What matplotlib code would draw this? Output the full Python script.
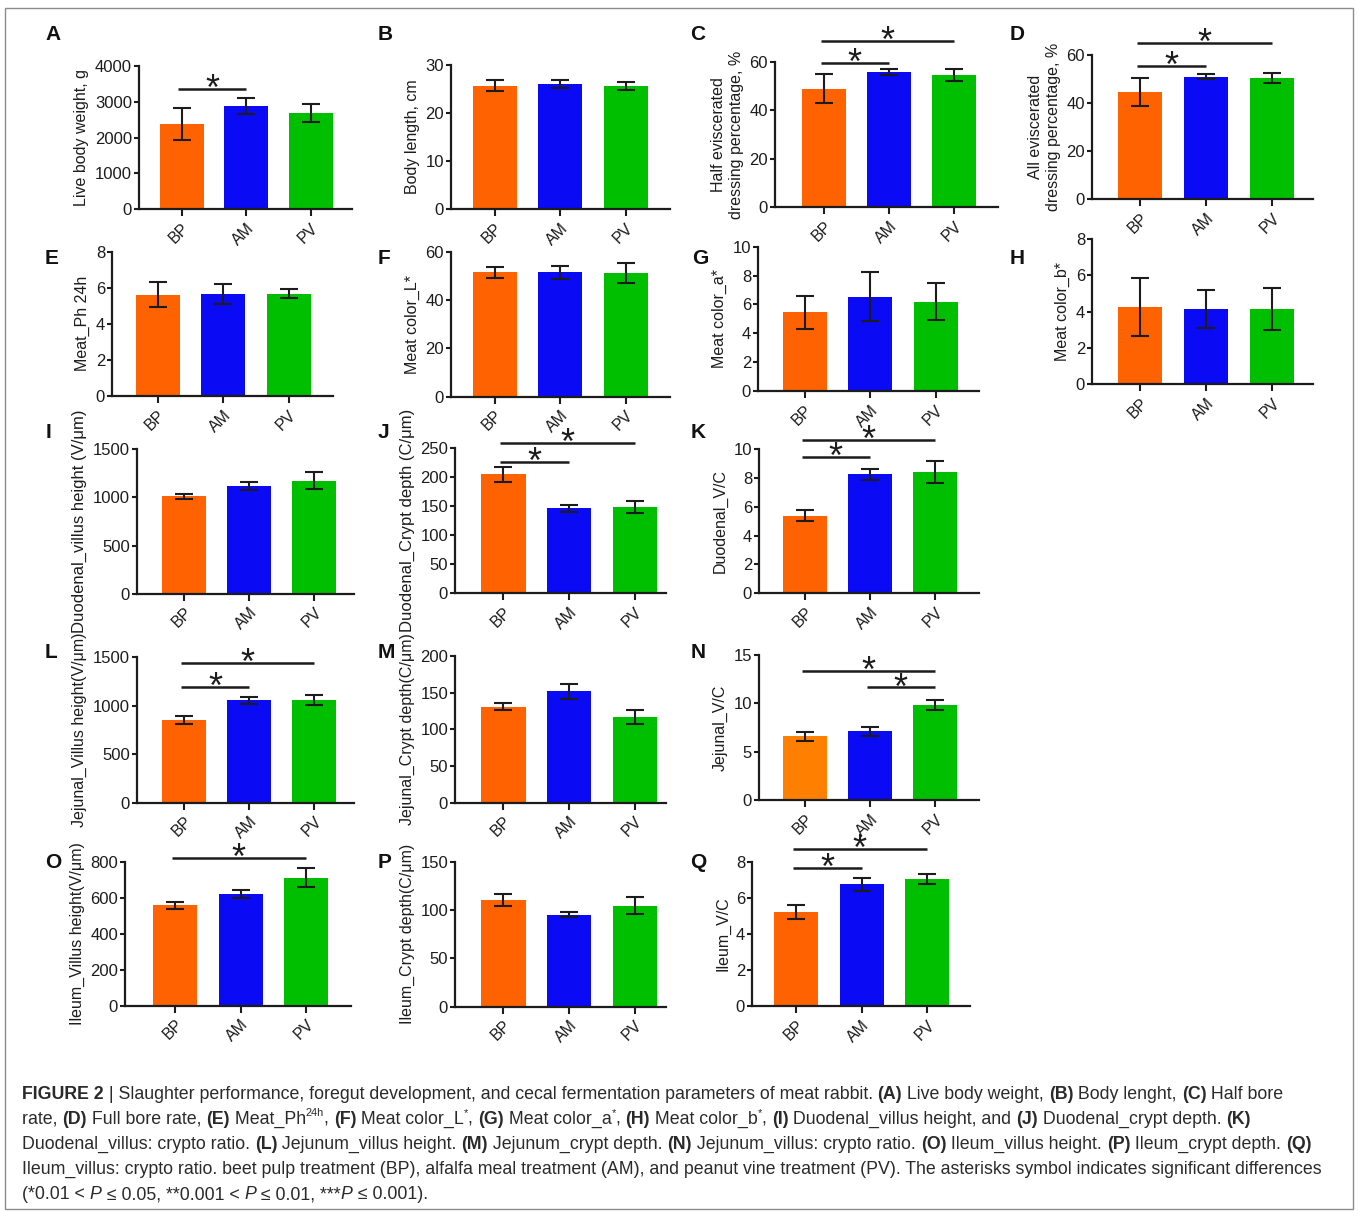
import matplotlib

matplotlib.use("Agg")
import matplotlib.pyplot as plt
from matplotlib.patches import Rectangle
from matplotlib.transforms import offset_copy

W, H = 1358, 1211
DPI = 100

GROUPS = ["BP", "AM", "PV"]
COLORS = ["#ff6200", "#0a0af5", "#00bf00"]
COLORS_N = ["#ff8000", "#0a0af5", "#00bf00"]

# slaughter performance and meat quality (A-H), mean and error
live_weight = [2370, 2880, 2680]
live_weight_err = [445, 215, 255]
body_length = [25.7, 26.0, 25.6]
body_length_err = [1.2, 0.8, 0.9]
half_dressing = [48.9, 55.9, 54.5]
half_dressing_err = [6.0, 1.2, 2.3]
all_dressing = [44.7, 51.0, 50.4]
all_dressing_err = [5.9, 1.0, 2.1]
meat_ph = [5.62, 5.66, 5.66]
meat_ph_err = [0.70, 0.56, 0.25]
color_l = [51.4, 51.5, 51.1]
color_l_err = [2.3, 2.7, 4.1]
color_a = [5.45, 6.54, 6.19]
color_a_err = [1.15, 1.70, 1.30]
color_b = [4.24, 4.15, 4.15]
color_b_err = [1.60, 1.06, 1.18]

# intestine morphology (I-Q)
duo_villus = [1010, 1118, 1175]
duo_villus_err = [28, 42, 85]
duo_crypt = [205, 147, 148.5]
duo_crypt_err = [12.5, 6, 10]
duo_vc = [5.38, 8.24, 8.40]
duo_vc_err = [0.36, 0.38, 0.78]
jej_villus = [855, 1056, 1058]
jej_villus_err = [43, 38, 53]
jej_crypt = [131, 152, 117]
jej_crypt_err = [5, 10, 9.5]
jej_vc = [6.6, 7.1, 9.8]
jej_vc_err = [0.45, 0.43, 0.5]
ile_villus = [557, 620, 712]
ile_villus_err = [17, 24, 52]
ile_crypt = [110.5, 95, 104.5]
ile_crypt_err = [6, 2.7, 8.5]
ile_vc = [5.22, 6.75, 7.03]
ile_vc_err = [0.37, 0.37, 0.28]

# significance brackets: (from group, to group, height)
sig_a = [(0, 1, 3350)]
sig_c = [(0, 1, 59.5), (0, 2, 68.6)]
sig_d = [(0, 1, 55.5), (0, 2, 65.0)]
sig_j = [(0, 1, 226), (0, 2, 259)]
sig_k = [(0, 1, 9.47), (0, 2, 10.6)]
sig_l = [(0, 1, 1197), (0, 2, 1438)]
sig_n = [(0, 2, 13.37), (1, 2, 11.64)]
sig_o = [(0, 2, 822)]
sig_q = [(0, 1, 7.67), (0, 2, 8.68)]

# letter, y label, values, errors, y max, y step, brackets
PANELS = [
    ("A", "Live body weight, g", live_weight, live_weight_err, 4000, 1000, sig_a),
    ("B", "Body length, cm", body_length, body_length_err, 30, 10, []),
    ("C", "Half eviscerated\ndressing percentage, %", half_dressing, half_dressing_err, 60, 20, sig_c),
    ("D", "All eviscerated\ndressing percentage, %", all_dressing, all_dressing_err, 60, 20, sig_d),
    ("E", "Meat_Ph 24h", meat_ph, meat_ph_err, 8, 2, []),
    ("F", "Meat color_L*", color_l, color_l_err, 60, 20, []),
    ("G", "Meat color_a*", color_a, color_a_err, 10, 2, []),
    ("H", "Meat color_b*", color_b, color_b_err, 8, 2, []),
    ("I", "Duodenal_villus height (V/μm)", duo_villus, duo_villus_err, 1500, 500, []),
    ("J", "Duodenal_Crypt depth (C/μm)", duo_crypt, duo_crypt_err, 250, 50, sig_j),
    ("K", "Duodenal_V/C", duo_vc, duo_vc_err, 10, 2, sig_k),
    ("L", "Jejunal_Villus height(V/μm)", jej_villus, jej_villus_err, 1500, 500, sig_l),
    ("M", "Jejunal_Crypt depth(C/μm)", jej_crypt, jej_crypt_err, 200, 50, []),
    ("N", "Jejunal_V/C", jej_vc, jej_vc_err, 15, 5, sig_n),
    ("O", "Ileum_Villus height(V/μm)", ile_villus, ile_villus_err, 800, 200, sig_o),
    ("P", "Ileum_Crypt depth(C/μm)", ile_crypt, ile_crypt_err, 150, 50, []),
    ("Q", "Ileum_V/C", ile_vc, ile_vc_err, 8, 2, sig_q),
]

# pixel layout: y-axis x, first bar centre, bar spacing, axis end, top y, zero y,
# letter left x, letter y
LAYOUT = {
    "A": (139, 181.5, 64.5, 352, 66, 209, 45, 35),
    "B": (451, 494.5, 65.5, 670, 65, 209, 378, 35),
    "C": (775, 824, 65, 998, 61.7, 207.3, 690, 35),
    "D": (1092, 1140, 66, 1313, 55, 199.3, 1010, 35),
    "E": (112, 157.5, 65.5, 333, 251.7, 396, 45, 258),
    "F": (451, 494.5, 65.5, 670, 251.7, 396.7, 378, 258),
    "G": (758, 804.5, 65.5, 979, 246.7, 391, 692, 258),
    "H": (1092, 1140, 66, 1313, 239.3, 384, 1010, 258),
    "I": (137, 184.5, 65, 354, 449.3, 593.7, 46, 432),
    "J": (455, 503.5, 65.5, 666, 448.3, 593.3, 378, 432),
    "K": (759, 805, 65, 979, 449, 593.3, 691, 432),
    "L": (137, 184.5, 65, 354, 657.3, 802.7, 45, 652),
    "M": (455, 503.5, 65.5, 666, 656, 802.7, 378, 652),
    "N": (759, 805, 65, 979, 655, 800, 691, 652),
    "O": (125, 175, 65.5, 351, 861.7, 1005.7, 45, 863),
    "P": (455, 503.5, 65.5, 666, 861.7, 1006.7, 378, 863),
    "Q": (752, 796, 65.5, 970, 861.7, 1006, 690, 863),
}

NARROW = ["Liberation Sans Narrow", "Liberation Sans", "DejaVu Sans"]
REGULAR = ["Liberation Sans", "DejaVu Sans"]
INK = "#1c1c1c"
STAR_SIZE = 26
STAR_DROP = 11

CAPTION = [
    [("FIGURE 2", "b"), (" | Slaughter performance, foregut development, and cecal fermentation "
                         "parameters of meat rabbit. ", ""), ("(A)", "b"), (" Live body weight, ", ""),
     ("(B)", "b"), (" Body lenght, ", ""), ("(C)", "b"), (" Half bore", "")],
    [("rate, ", ""), ("(D)", "b"), (" Full bore rate, ", ""), ("(E)", "b"), (" Meat_Ph", ""),
     ("24h", "sup"), (", ", ""), ("(F)", "b"), (" Meat color_L", ""), ("*", "sup"), (", ", ""),
     ("(G)", "b"), (" Meat color_a", ""), ("*", "sup"), (", ", ""), ("(H)", "b"),
     (" Meat color_b", ""), ("*", "sup"), (", ", ""), ("(I)", "b"),
     (" Duodenal_villus height, and ", ""), ("(J)", "b"), (" Duodenal_crypt depth. ", ""),
     ("(K)", "b")],
    [("Duodenal_villus: crypto ratio. ", ""), ("(L)", "b"), (" Jejunum_villus height. ", ""),
     ("(M)", "b"), (" Jejunum_crypt depth. ", ""), ("(N)", "b"),
     (" Jejunum_villus: crypto ratio. ", ""), ("(O)", "b"), (" Ileum_villus height. ", ""),
     ("(P)", "b"), (" Ileum_crypt depth. ", ""), ("(Q)", "b")],
    [("Ileum_villus: crypto ratio. beet pulp treatment (BP), alfalfa meal treatment (AM), and "
      "peanut vine treatment (PV). The asterisks symbol indicates significant differences", "")],
    [("(*0.01 < ", ""), ("P", "i"), (" ≤ 0.05, **0.001 < ", ""), ("P", "i"), (" ≤ 0.01, ***", ""),
     ("P", "i"), (" ≤ 0.001).", "")],
]


def fx(x):
    return x / W


def fy(y):
    return 1 - y / H


def draw_panel(fig, letter, ylabel, values, errors, ymax, ystep, sig):
    axis_x, first, step, end, top, zero, lx, ly = LAYOUT[letter]
    ax = fig.add_axes([fx(axis_x), fy(zero), (end - axis_x) / W, (zero - top) / H])
    xs = list(range(len(GROUPS)))
    colors = COLORS_N if letter == "N" else COLORS
    ax.bar(xs, values, width=44 / step, color=colors, zorder=2)
    ax.errorbar(xs, values, yerr=errors, fmt="none", ecolor=INK, elinewidth=1.5,
                capsize=6.5, capthick=1.5, zorder=3)
    ax.set_xlim(-(first - axis_x) / step, (end - first) / step)
    ax.set_ylim(0, ymax)
    ax.set_yticks(range(0, ymax + 1, ystep))
    ax.set_xticks(xs)
    ax.set_xticklabels(GROUPS, rotation=45, ha="right", rotation_mode="anchor",
                       fontsize=11.5, color=INK)
    for lab in ax.get_yticklabels():
        lab.set_fontsize(12)
        lab.set_color(INK)
    for side in ("top", "right"):
        ax.spines[side].set_visible(False)
    for side in ("left", "bottom"):
        ax.spines[side].set_linewidth(1.6)
        ax.spines[side].set_color(INK)
    ax.tick_params(axis="y", direction="out", length=3.5, width=1.5, color=INK, pad=1.5)
    ax.tick_params(axis="x", direction="out", length=5, width=1.5, color=INK, pad=3)
    ax.set_ylabel(ylabel, fontsize=11.5 if letter not in ("I", "J") else 12,
                  color=INK, linespacing=1.25, labelpad=4)

    star_tf = offset_copy(ax.transData, fig=fig, x=0, y=-STAR_DROP, units="dots")
    for i, j, level in sig:
        x0 = i - 0.05
        ax.plot([x0, j], [level, level], color=INK, lw=1.8, clip_on=False,
                solid_capstyle="butt")
        ax.text((x0 + j) / 2, level, "*", transform=star_tf, ha="center", va="baseline",
                fontsize=STAR_SIZE, color=INK, family=REGULAR, clip_on=False)

    fig.text(fx(lx), fy(ly), letter, fontsize=15, fontweight="bold", ha="left",
             va="center", color="#111111")


def text_width(fig, renderer, text, props):
    probe = fig.text(0, 0, "x" + text + "x", **props)
    base = fig.text(0, 0, "xx", **props)
    width = probe.get_window_extent(renderer).width - base.get_window_extent(renderer).width
    probe.remove()
    base.remove()
    return width


def run_props(style, size):
    props = {"fontsize": size, "family": NARROW, "color": "#2a2a2a"}
    if style == "b":
        props["fontweight"] = "bold"
    elif style == "i":
        props["style"] = "italic"
    elif style == "sup":
        props["fontsize"] = size * 0.62
    return props


def line_width(fig, renderer, runs, size):
    return sum(text_width(fig, renderer, text, run_props(style, size)) for text, style in runs)


def draw_caption(fig):
    renderer = fig.canvas.get_renderer()
    size = 12.0
    size *= (1328 - 22) / line_width(fig, renderer, CAPTION[3], size)
    baseline = 1099
    for runs in CAPTION:
        x = 22
        for text, style in runs:
            props = run_props(style, size)
            rise = size * 0.45 * DPI / 72 if style == "sup" else 0
            fig.text(fx(x), fy(baseline - rise), text, ha="left", va="baseline", **props)
            x += text_width(fig, renderer, text, props)
        baseline += 25


def main() -> None:
    plt.rcParams["font.family"] = REGULAR
    fig = plt.figure(figsize=(W / DPI, H / DPI), dpi=DPI)
    fig.patch.set_facecolor("white")

    for panel in PANELS:
        draw_panel(fig, *panel)

    draw_caption(fig)

    fig.add_artist(Rectangle((fx(5), fy(1209)), (1353 - 5) / W, (1209 - 8) / H,
                             transform=fig.transFigure, fill=False, ec="#8c8c8c", lw=1.0))
    fig.savefig("out.png", dpi=DPI)
    plt.close(fig)


if __name__ == "__main__":
    main()
